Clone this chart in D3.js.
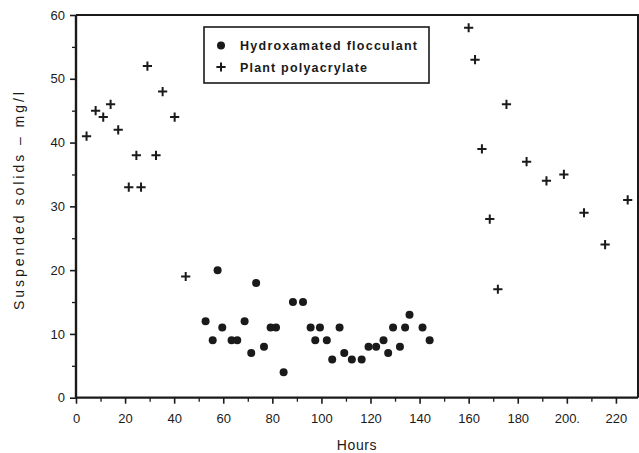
<!DOCTYPE html>
<html>
<head>
<meta charset="utf-8">
<script src="https://cdn.jsdelivr.net/npm/d3@7"></script>
<style>
  html, body { margin: 0; padding: 0; background: #fff; }
  svg { display: block; }
  text { font-family: "Liberation Sans", Arial, sans-serif; fill: #1a1a1a; }
</style>
</head>
<body>
<svg id="chart" width="639" height="453"></svg>
<script>
// Hydroxamated flocculant: [hours, suspended solids mg/l]
const hydroxHours = [52.8, 55.7, 57.7, 59.6, 63.4, 65.7, 68.7, 71.4, 73.4, 76.6, 79.3, 81.5,
  84.6, 88.4, 92.5, 95.6, 97.5, 99.4, 102.2, 104.4, 107.4, 109.3, 112.4, 116.4, 119.2,
  122.3, 125.3, 127.2, 129.2, 132, 134.1, 135.9, 141.2, 144.1];
const hydroxSolids = [12, 9, 20, 11, 9, 9, 12, 7, 18, 8, 11, 11,
  4, 15, 15, 11, 9, 11, 9, 6, 11, 7, 6, 6, 8,
  8, 9, 7, 11, 8, 11, 13, 11, 9];

// Plant polyacrylate
const polyHours = [4.3, 8.0, 11.1, 14.1, 17.2, 21.5, 24.6, 26.5, 29.1, 32.6, 35.3, 40.2, 44.7,
  160, 162.6, 165.4, 168.6, 171.9, 175.4, 183.6, 191.7, 198.8, 207, 215.6, 224.8];
const polySolids = [41, 45, 44, 46, 42, 33, 38, 33, 52, 38, 48, 44, 19,
  58, 53, 39, 28, 17, 46, 37, 34, 35, 29, 24, 31];

const xMajorTicks = [0, 20, 40, 60, 80, 100, 120, 140, 160, 180, 200, 220];
const xTickLabels = ["0", "20", "40", "60", "80", "100", "120", "140", "160", "180", "200.", "220"];
const yMajorTicks = [0, 10, 20, 30, 40, 50, 60];

const seriesNames = ["Hydroxamated flocculant", "Plant polyacrylate"];

const svg = d3.select("#chart");
const ink = "#1a1a1a";

const x = d3.scaleLinear().domain([0, 229]).range([76, 638]);
const y = d3.scaleLinear().domain([0, 60]).range([397.7, 15]);

// frame (top and right edges)
svg.append("path")
  .attr("d", `M${x(0)},${y(60)}H${x(229)}V${y(0)}`)
  .attr("fill", "none").attr("stroke", ink).attr("stroke-width", 2);

// x axis
const xAxis = svg.append("g").attr("transform", `translate(0,${y(0)})`)
  .call(d3.axisBottom(x).tickValues(xMajorTicks).tickSize(6).tickPadding(10)
    .tickFormat((d, i) => xTickLabels[i]));
xAxis.select(".domain").attr("d", `M${x(0)},0H${x(229)}`).attr("stroke", ink).attr("stroke-width", 2.2);
xAxis.selectAll(".tick line").attr("stroke", ink).attr("stroke-width", 1.6);
xAxis.selectAll(".tick text").attr("font-size", 13).attr("fill", ink);
svg.append("g").attr("transform", `translate(0,${y(0)})`)
  .call(d3.axisBottom(x).tickValues(d3.range(10, 229, 20)).tickSize(4).tickFormat(""))
  .call(g => g.select(".domain").remove())
  .selectAll("line").attr("stroke", ink).attr("stroke-width", 1.3);

// y axis
const yAxis = svg.append("g").attr("transform", `translate(${x(0)},0)`)
  .call(d3.axisLeft(y).tickValues(yMajorTicks).tickSize(6).tickPadding(5));
yAxis.select(".domain").attr("d", `M0,${y(60)}V${y(0)}`).attr("stroke", ink).attr("stroke-width", 2.4);
yAxis.selectAll(".tick line").attr("stroke", ink).attr("stroke-width", 1.6);
yAxis.selectAll(".tick text").attr("font-size", 13).attr("fill", ink);
svg.append("g").attr("transform", `translate(${x(0)},0)`)
  .call(d3.axisLeft(y).tickValues(d3.range(5, 60, 10)).tickSize(4).tickFormat(""))
  .call(g => g.select(".domain").remove())
  .selectAll("line").attr("stroke", ink).attr("stroke-width", 1.3);

// axis titles
svg.append("text")
  .attr("x", 357).attr("y", 450)
  .attr("text-anchor", "middle").attr("font-size", 14)
  .attr("letter-spacing", 0.6)
  .text("Hours");

svg.append("text")
  .attr("transform", "translate(24,201) rotate(-90)")
  .attr("text-anchor", "middle").attr("font-size", 14)
  .attr("textLength", 218).attr("lengthAdjust", "spacing")
  .text("Suspended  solids  \u2013  mg/l");

// plus marker path
const plus = (s) => `M${-s},0H${s}M0,${-s}V${s}`;

// data: plant polyacrylate
svg.append("g").selectAll("path")
  .data(d3.zip(polyHours, polySolids))
  .join("path")
  .attr("transform", d => `translate(${x(d[0])},${y(d[1])})`)
  .attr("d", plus(4.6))
  .attr("stroke", ink).attr("stroke-width", 2).attr("fill", "none");

// data: hydroxamated flocculant
svg.append("g").selectAll("circle")
  .data(d3.zip(hydroxHours, hydroxSolids))
  .join("circle")
  .attr("cx", d => x(d[0])).attr("cy", d => y(d[1]))
  .attr("r", 4).attr("fill", ink);

// legend
const lg = svg.append("g");
lg.append("rect")
  .attr("x", 204).attr("y", 27).attr("width", 225).attr("height", 56)
  .attr("fill", "#fff").attr("stroke", ink).attr("stroke-width", 1.6);
lg.append("circle").attr("cx", 221).attr("cy", 45.5).attr("r", 4).attr("fill", ink);
lg.append("path").attr("transform", "translate(221,67)").attr("d", plus(4.6))
  .attr("stroke", ink).attr("stroke-width", 2).attr("fill", "none");
lg.append("text").attr("x", 240).attr("y", 49.5).attr("font-size", 12.5).attr("font-weight", "bold")
  .attr("textLength", 177).attr("lengthAdjust", "spacing").text(seriesNames[0]);
lg.append("text").attr("x", 240).attr("y", 71.5).attr("font-size", 12.5).attr("font-weight", "bold")
  .attr("textLength", 127).attr("lengthAdjust", "spacing").text(seriesNames[1]);
</script>
</body>
</html>
